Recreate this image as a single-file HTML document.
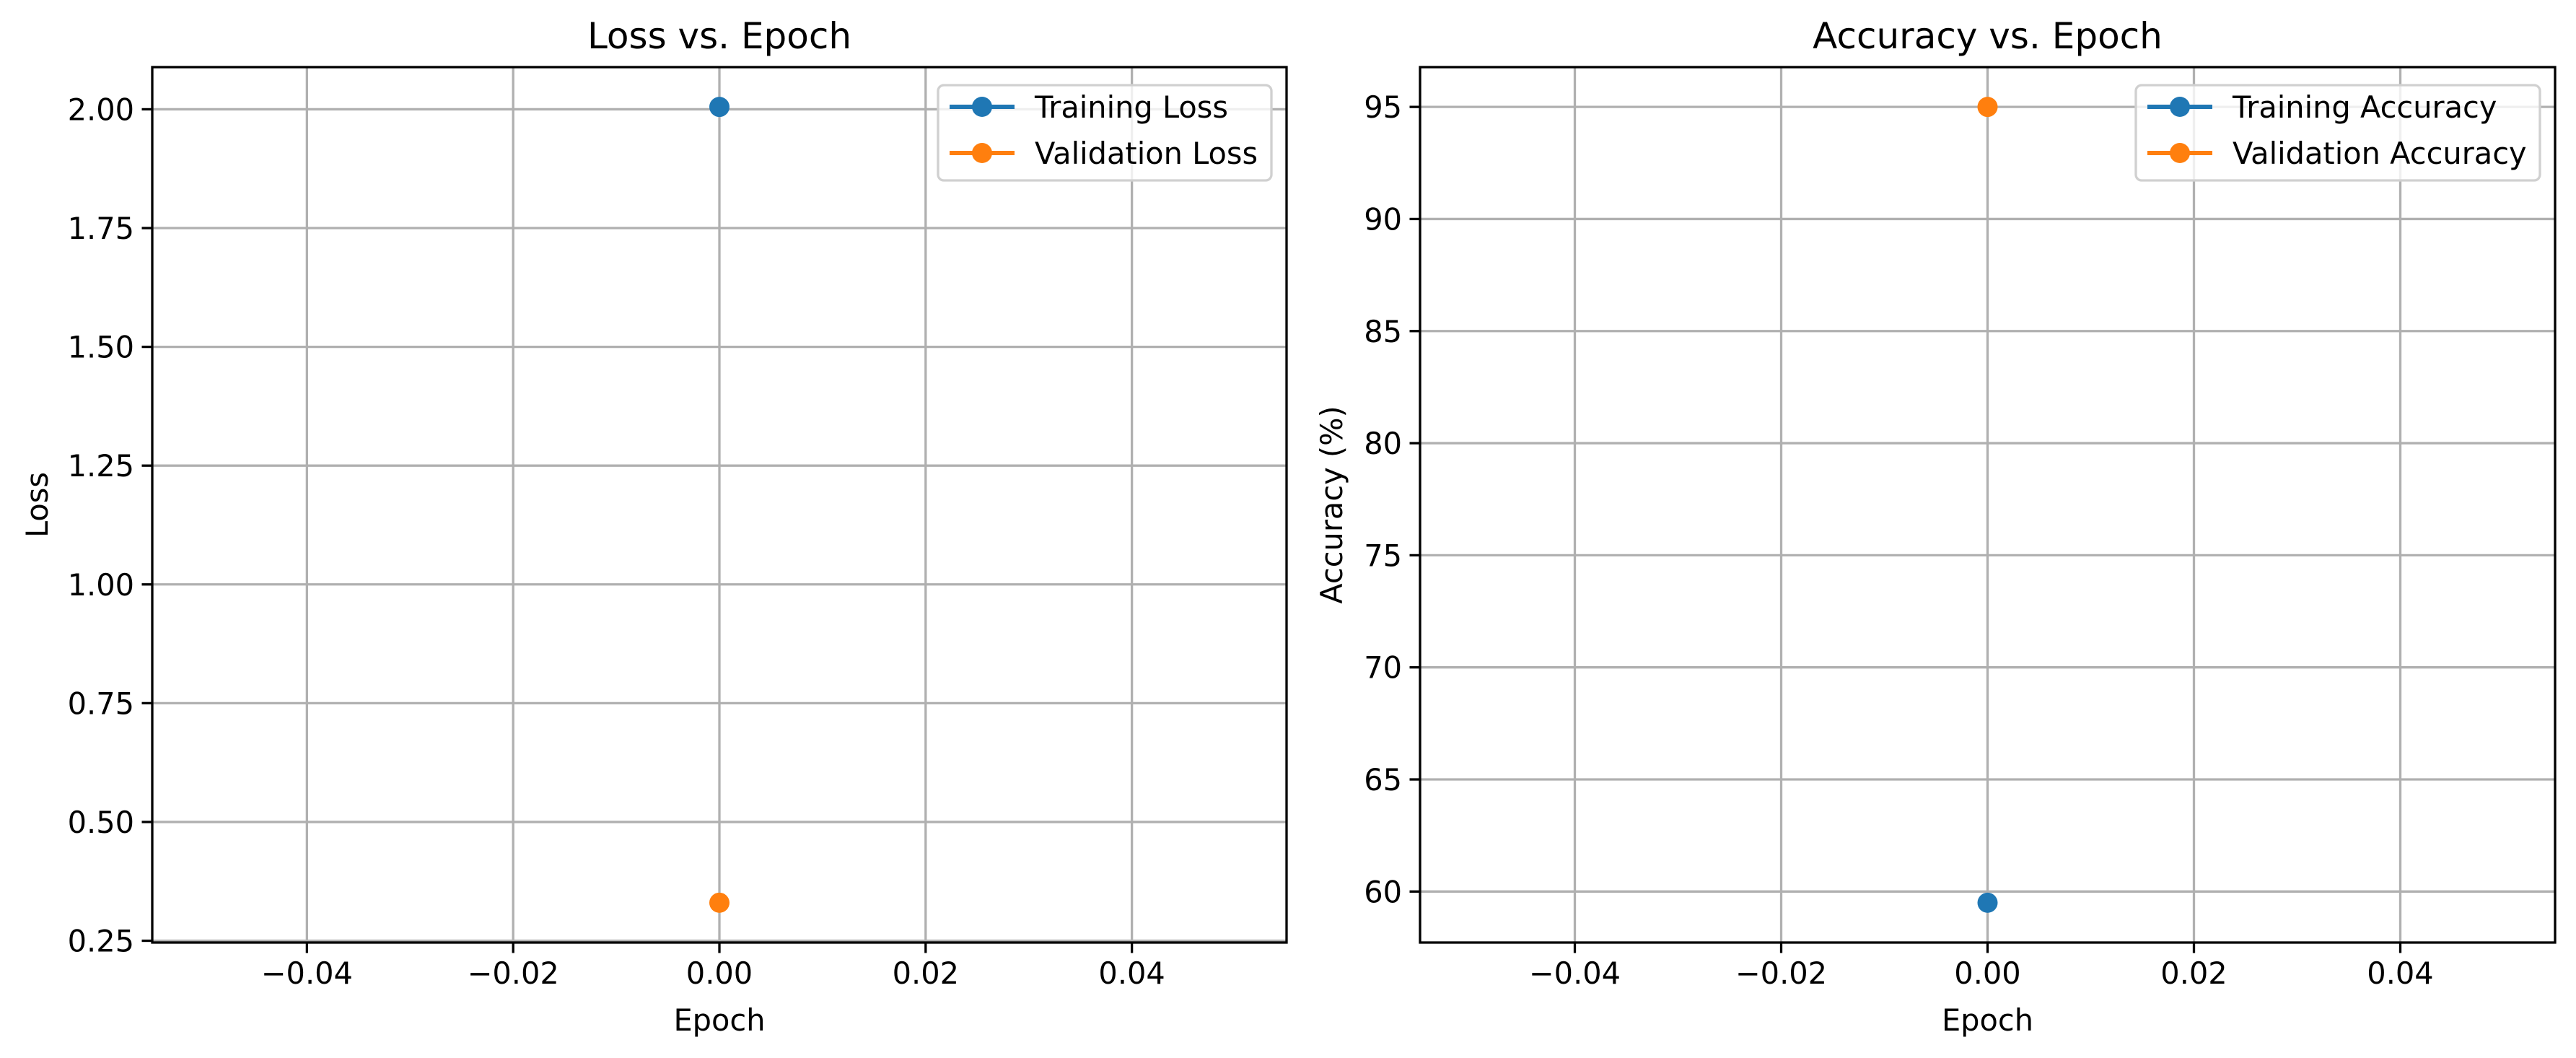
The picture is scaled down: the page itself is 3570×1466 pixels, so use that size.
<!DOCTYPE html>
<html><head><meta charset="utf-8"><style>
html,body{margin:0;padding:0;background:#fff}
svg{display:block}
text{font-family:"DejaVu Sans","Liberation Sans",sans-serif;fill:#000}
</style></head><body>
<svg id="fig" width="3570" height="1466" viewBox="0 0 3570 1466" xmlns="http://www.w3.org/2000/svg"></svg>
<script>
const epochs = [0];
const trainLoss = [2.005];
const valLoss = [0.33];
const trainAcc = [59.5];
const valAcc = [95.0];
const xTicks = [-0.04, -0.02, 0.00, 0.02, 0.04];
const xTickLabels = ["\u22120.04", "\u22120.02", "0.00", "0.02", "0.04"];
const lossTicks = [0.25, 0.50, 0.75, 1.00, 1.25, 1.50, 1.75, 2.00];
const lossTickLabels = ["0.25", "0.50", "0.75", "1.00", "1.25", "1.50", "1.75", "2.00"];
const accTicks = [60, 65, 70, 75, 80, 85, 90, 95];
const accTickLabels = ["60", "65", "70", "75", "80", "85", "90", "95"];

const NS = "http://www.w3.org/2000/svg";
const fig = document.getElementById('fig');
function mk(tag, attrs, parent) {
  const e = document.createElementNS(NS, tag);
  for (const k in attrs) e.setAttribute(k, attrs[k]);
  parent.appendChild(e);
  return e;
}
function lim(arrs) {
  const all = [].concat(...arrs);
  let lo = Math.min(...all), hi = Math.max(...all);
  if (hi === lo) { return [lo - 0.055, hi + 0.055]; }
  const m = (hi - lo) * 0.05;
  return [lo - m, hi + m];
}
const FS = 41.5;

function panel(opts) {
  const g = mk('g', {}, fig);
  
  
  const L = opts.left, R = opts.right, T = 93, B = 1306;
  const xl = lim([epochs]);
  const yl = lim([opts.s1, opts.s2]);
  const xs = v => L + (v - xl[0]) / (xl[1] - xl[0]) * (R - L);
  const ys = v => B - (v - yl[0]) / (yl[1] - yl[0]) * (B - T);
  const grid = mk('g', {stroke: '#b0b0b0', 'stroke-width': 3.3}, g);
  
  
  xTicks.forEach((t, i) => {
    const x = xs(t);
    if (x < L || x > R) return;
    mk('line', {x1: x, x2: x, y1: T, y2: B}, grid);
    mk('line', {x1: x, x2: x, y1: B, y2: B + 14.5, stroke: '#000', 'stroke-width': 3.3}, g);
    const tx = mk('text', {x: x, y: B + 57, 'font-size': FS, 'text-anchor': 'middle'}, g);
    tx.textContent = xTickLabels[i];
    
    
  });
  opts.ticks.forEach((t, i) => {
    const y = ys(t);
    if (y < T - 1 || y > B + 1) return;
    mk('line', {x1: L, x2: R, y1: y, y2: y}, grid);
    mk('line', {x1: L - 14.5, x2: L, y1: y, y2: y, stroke: '#000', 'stroke-width': 3.3}, g);
    const tx = mk('text', {x: L - 25, y: y + 15, 'font-size': FS, 'text-anchor': 'end'}, g);
    tx.textContent = opts.tickLabels[i];
    
    
  });
  [[opts.s1, '#1f77b4', 'training-series'], [opts.s2, '#ff7f0e', 'validation-series']].forEach(([s, c, n]) => {
    const pts = s.map((v, i) => xs(epochs[i]) + ',' + ys(v)).join(' ');
    const pl = mk('polyline', {points: pts, fill: 'none', stroke: c, 'stroke-width': 6}, g);
    
    
    s.forEach((v, i) => {
      const c1 = mk('circle', {cx: xs(epochs[i]), cy: ys(v), r: 14, fill: c}, g);
      
      
    });
  });
  const fr = mk('rect', {x: L, y: T, width: R - L, height: B - T, fill: 'none', stroke: '#000', 'stroke-width': 3.3}, g);
  
  
  const ti = mk('text', {x: (L + R) / 2, y: 67, 'font-size': 50, 'text-anchor': 'middle'}, g);
  ti.textContent = opts.title;
  
  
  const xlab = mk('text', {x: (L + R) / 2, y: 1428, 'font-size': FS, 'text-anchor': 'middle'}, g);
  xlab.textContent = 'Epoch';
  
  
  const yc = (T + B) / 2;
  const ylab = mk('text', {x: opts.ylabX, y: yc, 'font-size': FS, 'text-anchor': 'middle', transform: `rotate(-90 ${opts.ylabX} ${yc})`}, g);
  ylab.textContent = opts.ylabel;
  
  
  const lg = mk('g', {}, g);
  
  
  const lx = opts.legX, lw = R - 21 - lx;
  mk('rect', {x: lx, y: 118, width: lw, height: 132, rx: 8, fill: '#fff', 'fill-opacity': 0.8, stroke: '#d0d0d0', 'stroke-width': 3.3}, lg);
  [[opts.l1, '#1f77b4', 148], [opts.l2, '#ff7f0e', 212]].forEach(([t, c, y]) => {
    const e = mk('g', {}, lg);
    
    
    mk('line', {x1: lx + 16, x2: lx + 106, y1: y, y2: y, stroke: c, 'stroke-width': 6}, e);
    mk('circle', {cx: lx + 61, cy: y, r: 14, fill: c}, e);
    const tx = mk('text', {x: lx + 134, y: y + 15, 'font-size': FS}, e);
    tx.textContent = t;
  });
}

panel({name: 'loss-chart', left: 211, right: 1783, s1: trainLoss, s2: valLoss, ticks: lossTicks, tickLabels: lossTickLabels,
  title: 'Loss vs. Epoch', ylabel: 'Loss', ylabX: 66, legX: 1300, l1: 'Training Loss', l2: 'Validation Loss'});
panel({name: 'accuracy-chart', left: 1968, right: 3541, s1: trainAcc, s2: valAcc, ticks: accTicks, tickLabels: accTickLabels,
  title: 'Accuracy vs. Epoch', ylabel: 'Accuracy (%)', ylabX: 1860, legX: 2960, l1: 'Training Accuracy', l2: 'Validation Accuracy'});
</script>
</body></html>
